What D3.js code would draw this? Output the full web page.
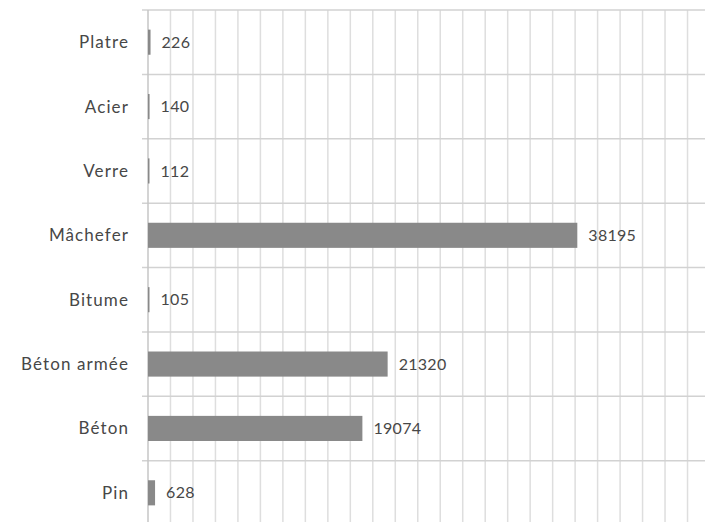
<!DOCTYPE html>
<html>
<head>
<meta charset="utf-8">
<script src="https://cdn.jsdelivr.net/npm/d3@7"></script>
<style>
  html, body { margin: 0; padding: 0; background: #fff; }
  svg { display: block; }
  text { font-family: Lato, "Open Sans", sans-serif; fill: #474747; }
</style>
</head>
<body>
<div id="chart"></div>
<script>
// materials, top to bottom
const categories = ["Platre", "Acier", "Verre", "Mâchefer", "Bitume", "Béton armée", "Béton", "Pin"];
const values = [226, 140, 112, 38195, 105, 21320, 19074, 628];
const tickStep = 2000;
const maxDomain = 50000;

const width = 705, height = 522;
const margin = { top: 10, left: 148 };
const plotW = 562, plotH = 515;

const svg = d3.select("#chart").append("svg")
    .attr("width", width)
    .attr("height", height);

const x = d3.scaleLinear().domain([0, maxDomain]).range([0, plotW]);
const y = d3.scaleBand().domain(categories).range([0, plotH]).padding(0);

const g = svg.append("g")
    .attr("transform", `translate(${margin.left},${margin.top})`);

// vertical grid
g.append("g")
    .selectAll("line")
    .data(d3.range(tickStep, maxDomain + 1, tickStep))
    .enter().append("line")
    .attr("x1", d => x(d)).attr("x2", d => x(d))
    .attr("y1", 0).attr("y2", height)
    .attr("stroke", "#dedede")
    .attr("stroke-width", 1.5);

// horizontal row separators
const rowEdges = categories.map(c => y(c)).concat([plotH]);
g.append("g")
    .selectAll("line")
    .data(rowEdges)
    .enter().append("line")
    .attr("x1", -6).attr("x2", width)
    .attr("y1", d => d).attr("y2", d => d)
    .attr("stroke", "#d2d2d2")
    .attr("stroke-width", 1.5);

// axis line
g.append("line")
    .attr("x1", 0).attr("x2", 0)
    .attr("y1", 0).attr("y2", height)
    .attr("stroke", "#c6c6c6")
    .attr("stroke-width", 1.5);

const barH = y.bandwidth() * 0.39;

g.append("g")
    .selectAll("rect")
    .data(values)
    .enter().append("rect")
    .attr("x", 0)
    .attr("y", (d, i) => y(categories[i]) + (y.bandwidth() - barH) / 2)
    .attr("width", d => Math.max(1.5, x(d)))
    .attr("height", barH)
    .attr("fill", "#898989");

// category labels
g.append("g")
    .selectAll("text")
    .data(categories)
    .enter().append("text")
    .attr("x", -19)
    .attr("y", d => y(d) + y.bandwidth() / 2)
    .attr("dy", "0.35em")
    .attr("text-anchor", "end")
    .attr("font-size", "17px")
    .attr("letter-spacing", "1.1px")
    .text(d => d);

// value labels
g.append("g")
    .selectAll("text")
    .data(values)
    .enter().append("text")
    .attr("x", d => Math.max(1.5, x(d)) + 11)
    .attr("y", (d, i) => y(categories[i]) + y.bandwidth() / 2)
    .attr("dy", "0.35em")
    .attr("font-size", "16px")
    .attr("letter-spacing", "0.3px")
    .text(d => d);
</script>
</body>
</html>
